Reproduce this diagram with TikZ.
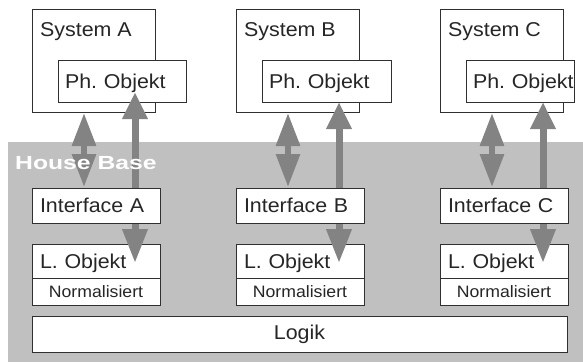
\documentclass[tikz,border=0pt]{standalone}
\usepackage{fontspec}
\setmainfont[FakeStretch=1.07]{Liberation Sans}
\newfontfamily\hbfont[FakeStretch=1.3]{Liberation Sans}
\usetikzlibrary{arrows.meta,positioning,calc}
\pgfdeclarelayer{front}
\pgfsetlayers{main,front}
\definecolor{hbgray}{HTML}{C0C0C0}
\definecolor{arrgray}{HTML}{838383}
\definecolor{boxline}{HTML}{303030}
\frenchspacing
\tikzset{
  box/.style={draw=boxline, fill=white, line width=0.9pt, inner sep=0pt, outer sep=0pt,
    anchor=north west, text=black!85, font=\fontsize{20}{24}\selectfont},
  tbox/.style={box, align=left, inner xsep=8pt, text height=14.3pt, text depth=0pt},
  nbox/.style={box, font=\fontsize{16.5}{20}\selectfont, minimum width=128pt, minimum height=27pt},
  lbl/.style={inner sep=0pt, text=black!85, font=\fontsize{20}{24}\selectfont, text height=14.3pt, text depth=0pt},
  hbtext/.style={anchor=north west, inner sep=0pt, text=white, font=\hbfont\bfseries\fontsize{19}{22}\selectfont},
  dblarrow/.style={draw=arrgray, line width=6pt,
    {Triangle[width=23pt, length=33pt]}-{Triangle[width=23pt, length=33pt]}},
  longarrow/.style={draw=arrgray, line width=7pt,
    {Triangle[width=24pt, length=27pt]}-{Triangle[width=24pt, length=34pt]}}
}
\begin{document}
\begin{tikzpicture}[x=1pt,y=-1pt]
  \useasboundingbox (0,0) rectangle (583,362);
  % house base
  \fill[hbgray] (8,142) rectangle (583,362);
  \begin{pgfonlayer}{front}
    \node[hbtext] (house) at (15,156.5) {House Base};
  \end{pgfonlayer}
  % systems and their objects
  \foreach \s/\x/\tw in {A/32/114, B/236/115, C/440/94} {
    \node[box, minimum width=123pt, minimum height=103pt] (sys\s) at (\x,9) {};
    \node[lbl, below right=13pt and 8pt of sys\s.north west] (sys\s txt) {System \s};
    \node[tbox, text width=\tw pt, inner xsep=7pt, minimum height=42pt] (ph\s) at (\x+26,60) {\mbox{Ph. Objekt}};
    \node[tbox, text width=112pt, minimum height=34pt] (lo\s) at (\x,244) {L. Objekt};
    \node[nbox, below=0pt of lo\s] (nm\s) {Normalisiert};
    \begin{pgfonlayer}{front}
      \node[tbox, text width=112pt, minimum height=35pt] (if\s) at (\x,188) {Interface \s};
    \end{pgfonlayer}
  }
  \node[box, anchor=north west, minimum width=535pt, minimum height=36pt] (logik) at (32,316) {Logik};
  % arrows
  \foreach \s/\d in {A/10, B/0, C/0} {
    \draw[dblarrow] ($(sys\s.south west)+(52,1)$) -- ($(if\s.north west)+(52,-1)$);
    \draw[longarrow] ($(ph\s.south west)+(77,-\d)$) -- ($(lo\s.north west)+(103,19)$);
  }
\end{tikzpicture}
\end{document}
